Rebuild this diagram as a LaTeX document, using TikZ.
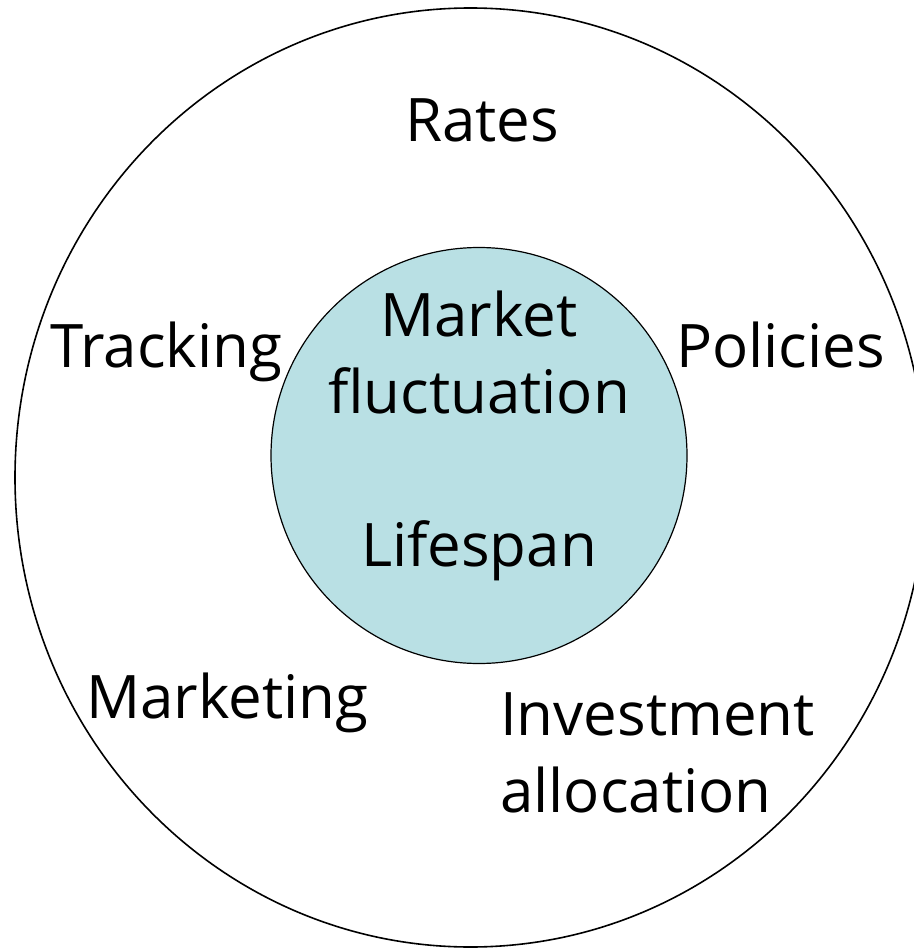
\documentclass[tikz,border=0pt]{standalone}
\usepackage{fontspec}
\setmainfont{Open Sans}
\definecolor{corefill}{RGB}{185,224,228}
\begin{document}
\begin{tikzpicture}[x=1pt,y=-1pt,
  lbl/.style={font=\fontsize{60}{77}\selectfont, inner sep=0pt, anchor=base west, align=left},
  clbl/.style={font=\fontsize{60}{77}\selectfont, inner sep=0pt, anchor=base, align=center}]
  \useasboundingbox (0,0) rectangle (913,949);
  % outer ring of factors
  \draw[line width=1.6pt] (470.5,477.5) ellipse [x radius=455.5, y radius=469.5];
  % inner core
  \node[circle, draw, line width=1.2pt, fill=corefill, minimum size=416pt, inner sep=0pt] (core) at (479,455.5) {};
  % multi-line nodes sit on the baseline of their last line
  \node[clbl] (market) at (479,413) {Market\\fluctuation};
  \node[clbl] (lifespan) at (479,566) {Lifespan};
  % outer labels
  \node[clbl] (rates) at (482,142) {Rates};
  \node[lbl] (tracking) at (50,367) {Tracking};
  \node[lbl] (policies) at (676,367) {Policies};
  \node[lbl] (marketing) at (86,718) {Marketing};
  \node[lbl] (invest) at (500,812) {Investment\\allocation};
\end{tikzpicture}
\end{document}
